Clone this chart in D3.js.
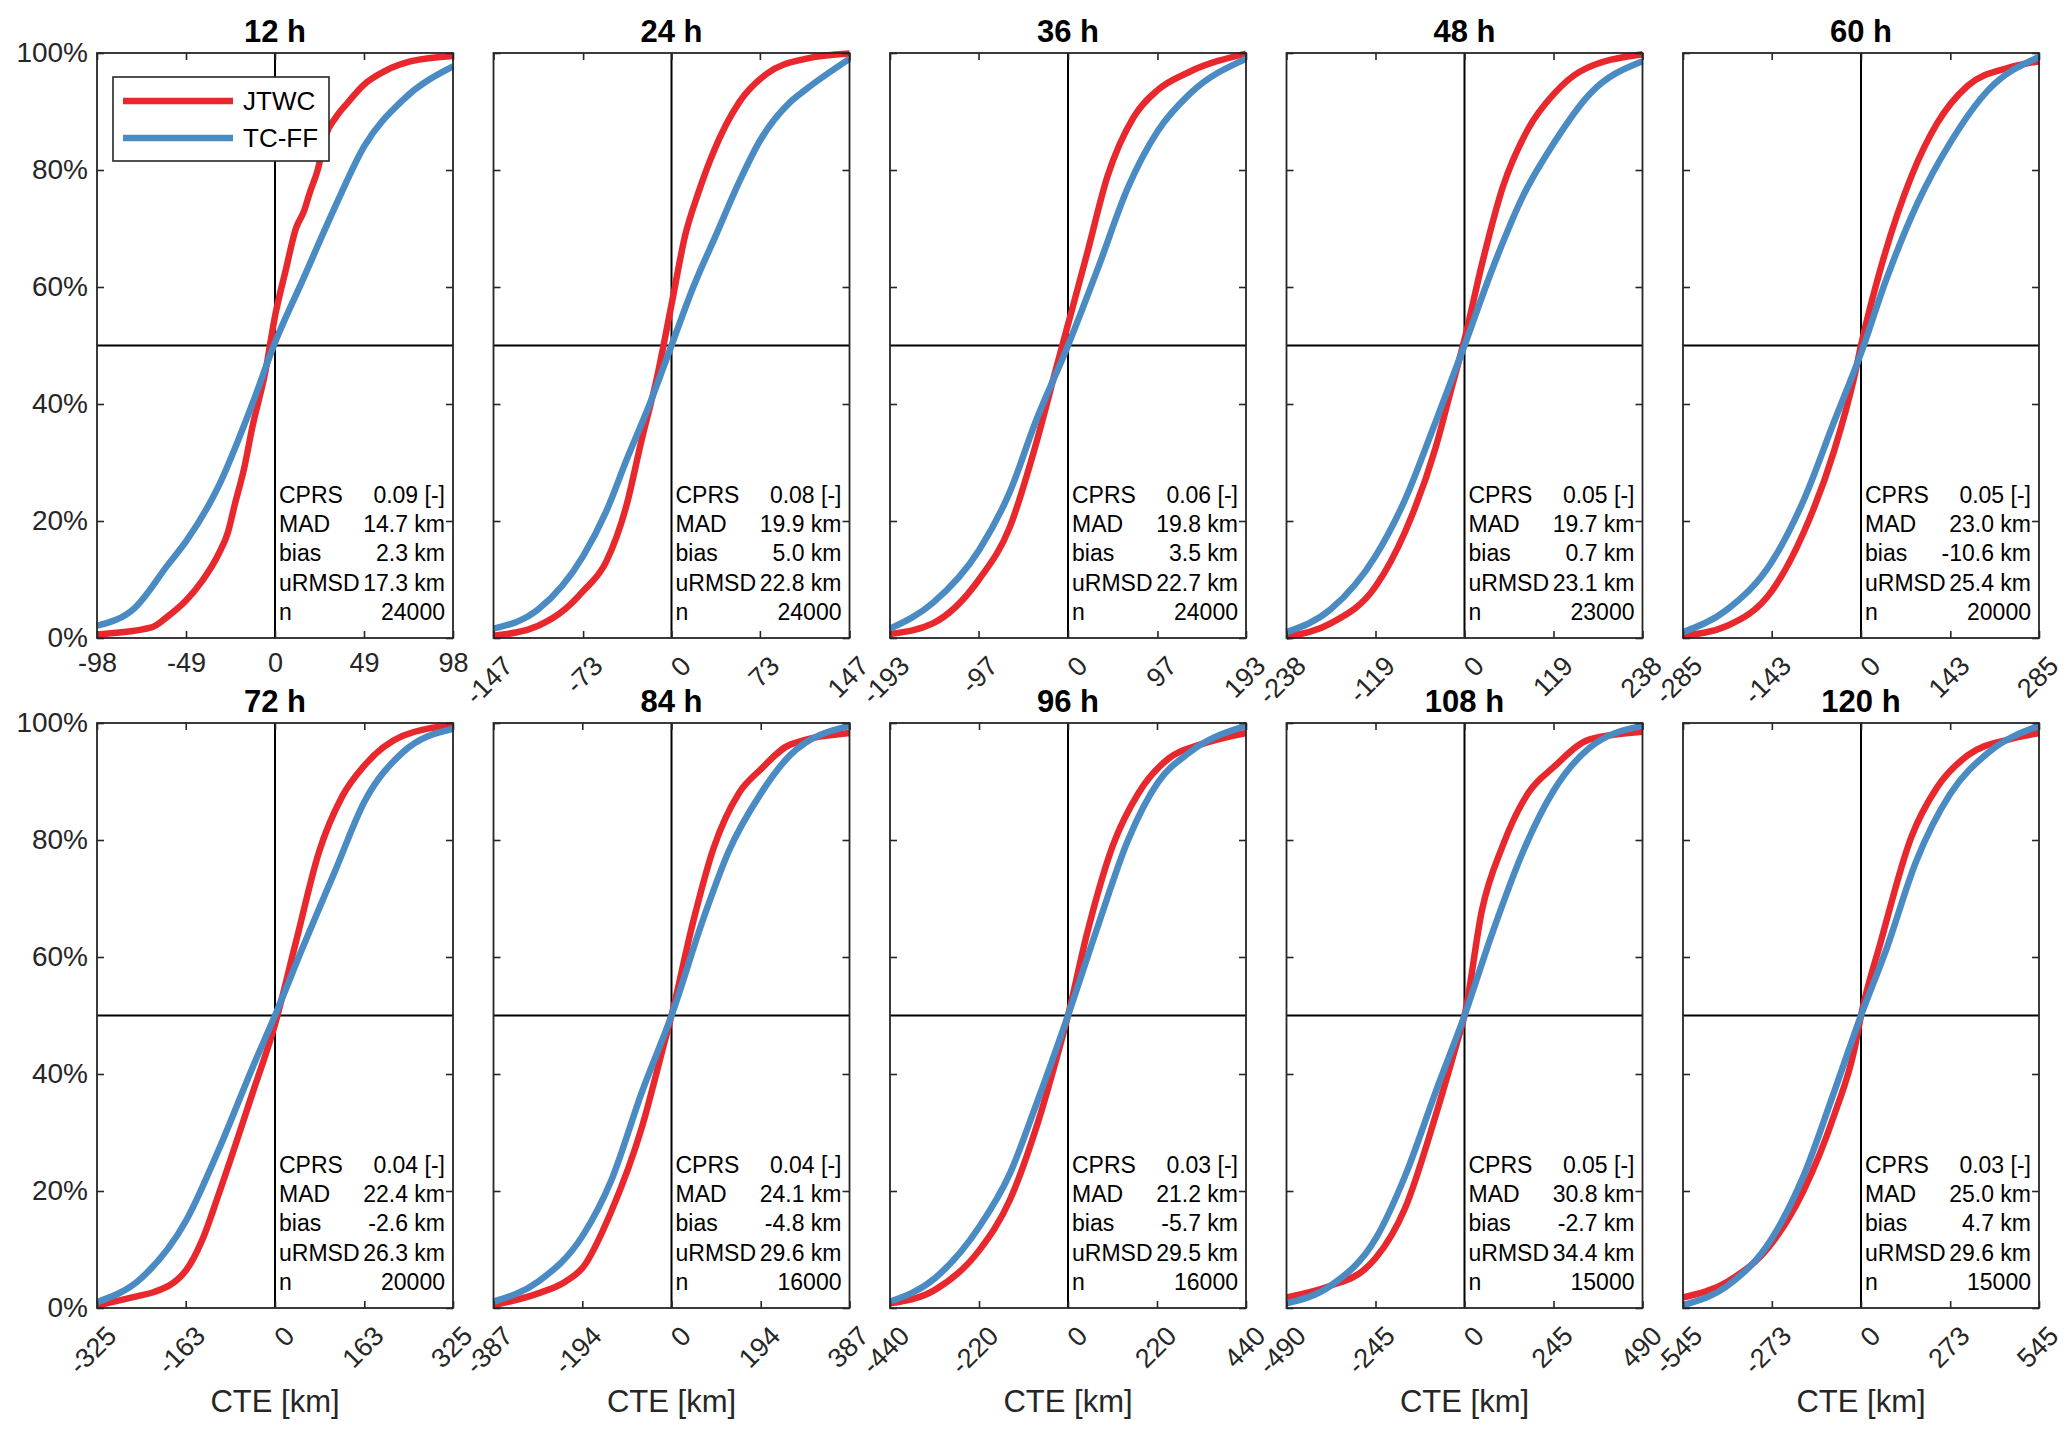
<!DOCTYPE html>
<html>
<head>
<meta charset="utf-8">
<script src="https://cdn.jsdelivr.net/npm/d3@7"></script>
<style>
  body { margin: 0; background: #fff; }
  text { font-family: "Liberation Sans", Arial, sans-serif; }
</style>
</head>
<body>
<div id="chart-area"></div>
<script>
// lead times and symmetric x limits (km) of each panel
const leadTimes = ['12 h', '24 h', '36 h', '48 h', '60 h', '72 h', '84 h', '96 h', '108 h', '120 h']
const xLimits = [98, 147, 193, 238, 285, 325, 387, 440, 490, 545]
const xTicks = [
    [-98, -49, 0, 49, 98], [-147, -73, 0, 73, 147], [-193, -97, 0, 97, 193],
    [-238, -119, 0, 119, 238], [-285, -143, 0, 143, 285], [-325, -163, 0, 163, 325],
    [-387, -194, 0, 194, 387], [-440, -220, 0, 220, 440], [-490, -245, 0, 245, 490],
    [-545, -273, 0, 273, 545]
]
const yTicks = [0, 20, 40, 60, 80, 100]

// scores printed in each panel
const cprs = [0.09, 0.08, 0.06, 0.05, 0.05, 0.04, 0.04, 0.03, 0.05, 0.03]
const mad = [14.7, 19.9, 19.8, 19.7, 23.0, 22.4, 24.1, 21.2, 30.8, 25.0]
const bias = [2.3, 5.0, 3.5, 0.7, -10.6, -2.6, -4.8, -5.7, -2.7, 4.7]
const urmsd = [17.3, 22.8, 22.7, 23.1, 25.4, 26.3, 29.6, 29.5, 34.4, 29.6]
const counts = [24000, 24000, 24000, 23000, 20000, 20000, 16000, 16000, 15000, 15000]

// cumulative distributions: [CTE km, percent]
const jtwcCdf = [
    [[-98, 0.6], [-68, 1.8], [-59, 3.7], [-49, 6.4], [-40, 9.8], [-31, 14.4], [-26, 18], [-22, 23], [-17, 29], [-12.5, 36], [-5, 46], [0, 55], [6, 63], [11.5, 70], [16, 73], [19, 76], [23.5, 80], [28, 86], [33.5, 89], [40, 91.5], [49, 94.6], [61, 97], [75, 98.6], [98, 99.5]],
    [[-147, 0.4], [-110, 2.1], [-88, 4.9], [-73, 8], [-54, 13], [-37, 22.8], [-24.5, 34], [-12, 44.5], [0, 57], [11.5, 69], [22, 76], [34.5, 83], [56, 91.6], [79, 96.5], [110.5, 99], [147, 99.9]],
    [[-193, 0.7], [-146.5, 2.5], [-96.5, 10], [-63, 19], [-35, 33], [-13, 46], [0, 53.6], [20.5, 65.6], [43, 79], [71, 89], [97.5, 93.7], [132, 96.8], [193, 99.9]],
    [[-238, 0.2], [-179, 2.5], [-119, 8.8], [-80, 18], [-38.5, 32.6], [-18, 42.4], [0, 51], [23.5, 64], [51, 77], [85, 87], [119.5, 93], [154, 96.8], [238, 99.8]],
    [[-285, 0.4], [-214, 2.1], [-143, 8], [-92, 18], [-43, 32], [-10, 45], [0, 50], [31, 63], [81, 79], [122, 88], [171, 94.4], [237, 97.5], [285, 98.6]],
    [[-325, 0.4], [-243, 2.2], [-225, 2.6], [-162, 6.5], [-133, 11.6], [-103, 19.4], [-41.5, 36.6], [0, 48.5], [38, 62.5], [80.5, 78], [123, 87.5], [163, 92.7], [233.5, 97.8], [325, 99.6]],
    [[-387, 0.5], [-290, 2.5], [-231, 4.5], [-192, 7], [-131, 16.5], [-64, 31], [-20, 44], [0, 50], [47, 66], [91, 78.5], [146.5, 88], [193, 92], [258, 96.3], [387, 98.3]],
    [[-440, 0.8], [-329, 3.1], [-220, 9.8], [-143.5, 18.5], [-80, 30.5], [-29, 42.5], [0, 50], [47, 64], [110.5, 79], [174, 88], [250, 94], [326.5, 96.3], [440, 98.3]],
    [[-490, 1.8], [-369, 3.8], [-277, 6.5], [-245, 8.5], [-164, 17], [-79, 33], [-22.5, 45], [0, 50], [48, 68], [105, 79], [175, 88], [246, 92.5], [345, 97.2], [490, 98.5]],
    [[-545, 1.8], [-409, 4.5], [-274, 11], [-176.5, 20], [-82, 33], [-19, 44.5], [0, 50], [60, 62.5], [154, 80.5], [233, 89], [327.5, 94.5], [453.5, 97.2], [545, 98.3]]
]
const tcffCdf = [
    [[-98, 2.1], [-77, 5.2], [-59, 12.5], [-49, 16.5], [-31, 26], [-12.5, 40], [0, 50.5], [15, 61], [33.5, 74], [49, 84], [70.5, 92], [98, 97.7]],
    [[-147, 1.6], [-110, 4.9], [-73, 14], [-54, 21.6], [-37, 30.5], [-18, 40], [0, 50], [18, 60], [37, 69], [56, 78], [73, 85], [98, 91.6], [110.5, 93.7], [147, 99]],
    [[-193, 1.6], [-146.5, 6], [-96.5, 15], [-63, 25], [-35, 37], [0, 50], [32, 63], [65, 77], [97.5, 86.7], [132, 93], [193, 99]],
    [[-238, 1], [-179, 4.9], [-119, 14], [-80, 23.5], [-38.5, 37], [0, 50], [37, 63], [78, 75.5], [119.5, 84.6], [167.5, 93], [238, 98.6]],
    [[-285, 1], [-214, 4.9], [-143, 13], [-92, 23.5], [-43, 37], [0, 48.7], [39.5, 61], [89, 74], [142.5, 84.6], [204, 93.7], [285, 99.3]],
    [[-325, 1], [-243, 5.2], [-162, 15], [-103, 27], [-41.5, 41], [0, 50], [50, 61.5], [111, 75], [163, 86.5], [233.5, 95], [325, 99]],
    [[-387, 1.1], [-290, 4.5], [-192, 12.5], [-131, 21.8], [-64, 37], [0, 50], [69, 66.5], [124, 78], [193, 87.8], [258, 94.5], [387, 99.5]],
    [[-440, 1.1], [-329, 5.1], [-220, 13.8], [-143.5, 23], [-80, 34.5], [0, 50], [72.5, 65], [148.5, 80], [222, 89.8], [301, 95], [440, 99.5]],
    [[-490, 0.8], [-369, 3.8], [-245, 11.8], [-164, 22.5], [-79, 37], [0, 50], [76, 64], [161, 78], [246, 88.5], [345, 95.8], [490, 99.5]],
    [[-545, 0.5], [-409, 3.8], [-274, 11.8], [-176.5, 22.5], [-82, 37], [0, 50], [75.5, 61], [170, 76.5], [272.5, 87.8], [391, 95], [545, 99.5]]
]
const seriesNames = ['JTWC', 'TC-FF']
const seriesColors = ['#e8282d', '#4a8bc4']

const width = 2067
const height = 1437
const panelW = 356
const panelH = 585
const colStep = 396.5
const rowTops = [53, 723]
const firstLeft = 97

const svg = d3.select('#chart-area').append('svg')
    .attr('width', width)
    .attr('height', height)
    .style('display', 'block')

const yScale = d3.scaleLinear().domain([0, 100]).range([panelH, 0])

leadTimes.forEach((lead, i) => {
    const col = i % 5
    const row = Math.floor(i / 5)
    const L = xLimits[i]
    const g = svg.append('g')
        .attr('transform', `translate(${firstLeft + col * colStep}, ${rowTops[row]})`)

    const xScale = d3.scaleLinear().domain([-L, L]).range([0, panelW])

    const line = d3.line()
        .x(d => xScale(d[0]))
        .y(d => yScale(d[1]))
        .curve(d3.curveMonotoneX)

    // crosshair at 0 km and 50 %
    g.append('line')
        .attr('x1', xScale(0)).attr('x2', xScale(0))
        .attr('y1', 0).attr('y2', panelH)
        .attr('stroke', '#000').attr('stroke-width', 2)
    g.append('line')
        .attr('x1', 0).attr('x2', panelW)
        .attr('y1', yScale(50)).attr('y2', yScale(50))
        .attr('stroke', '#000').attr('stroke-width', 2)

    // stats text
    const labels = ['CPRS', 'MAD', 'bias', 'uRMSD', 'n']
    const values = [
        `${cprs[i].toFixed(2)} [-]`,
        `${mad[i].toFixed(1)} km`,
        `${bias[i].toFixed(1)} km`,
        `${urmsd[i].toFixed(1)} km`,
        `${counts[i]}`
    ]
    labels.forEach((lab, k) => {
        const ty = panelH - 143 + k * 29.2
        g.append('text')
            .attr('x', xScale(0) + 4).attr('y', ty).attr('dy', '0.35em')
            .attr('font-size', '23px').attr('fill', '#000')
            .text(lab)
        g.append('text')
            .attr('x', panelW - 8).attr('y', ty).attr('dy', '0.35em')
            .attr('font-size', '23px').attr('fill', '#000')
            .attr('text-anchor', 'end')
            .text(values[k])
    })

    // the two CDF curves
    const curves = [jtwcCdf[i], tcffCdf[i]]
    curves.forEach((c, s) => {
        g.append('path')
            .datum(c)
            .attr('d', line)
            .attr('fill', 'none')
            .attr('stroke', seriesColors[s])
            .attr('stroke-width', 6.5)
            .attr('stroke-linejoin', 'round')
    })

    // axes with inward ticks
    const xAxisCall = d3.axisBottom(xScale)
        .tickValues(xTicks[i])
        .tickSizeInner(-7).tickSizeOuter(0)
        .tickPadding(15)
        .tickFormat(d => d)
    const xAx = g.append('g')
        .attr('class', 'x axis')
        .attr('transform', `translate(0, ${panelH})`)
        .call(xAxisCall)
    xAx.selectAll('text')
        .attr('font-size', '27px')
        .attr('fill', '#262626')
        .style('font-family', '"Liberation Sans", Arial, sans-serif')
    if (i > 0) {
        xAx.selectAll('text')
            .attr('y', 0).attr('x', 0).attr('dy', '0.35em')
            .attr('text-anchor', 'end')
            .attr('transform', 'translate(14, 23) rotate(-45)')
    }

    g.append('g')
        .attr('class', 'x axis top')
        .call(d3.axisTop(xScale).tickValues(xTicks[i]).tickSizeInner(-7).tickSizeOuter(0).tickFormat(''))

    const yAxisCall = d3.axisLeft(yScale)
        .tickValues(yTicks)
        .tickSizeInner(-7).tickSizeOuter(0)
        .tickPadding(9)
        .tickFormat(col === 0 ? (d => `${d}%`) : '')
    const yAx = g.append('g').attr('class', 'y axis').call(yAxisCall)
    yAx.selectAll('text')
        .attr('font-size', '28px')
        .attr('fill', '#262626')
        .style('font-family', '"Liberation Sans", Arial, sans-serif')

    g.append('g')
        .attr('class', 'y axis right')
        .attr('transform', `translate(${panelW}, 0)`)
        .call(d3.axisRight(yScale).tickValues(yTicks).tickSizeInner(-7).tickSizeOuter(0).tickFormat(''))

    g.selectAll('.axis path.domain').remove()
    g.selectAll('.axis line').attr('stroke', '#262626').attr('stroke-width', 1.6)

    // box
    g.append('rect')
        .attr('x', 0).attr('y', 0)
        .attr('width', panelW).attr('height', panelH)
        .attr('fill', 'none')
        .attr('stroke', '#262626')
        .attr('stroke-width', 1.8)

    // title
    g.append('text')
        .attr('x', panelW / 2).attr('y', -11)
        .attr('text-anchor', 'middle')
        .attr('font-size', '31px').attr('font-weight', 'bold')
        .attr('fill', '#000')
        .text(lead)

    if (row === 1) {
        g.append('text')
            .attr('class', 'x axis-label')
            .attr('x', panelW / 2).attr('y', 1412 - rowTops[1])
            .attr('text-anchor', 'middle')
            .attr('font-size', '31px')
            .attr('fill', '#262626')
            .text('CTE [km]')
    }

    // legend in the first panel
    if (i === 0) {
        const lg = g.append('g').attr('transform', 'translate(16, 24)')
        lg.append('rect')
            .attr('width', 216).attr('height', 84)
            .attr('fill', '#fff').attr('stroke', '#262626').attr('stroke-width', 1.6)
        seriesNames.forEach((name, s) => {
            const ly = 24 + s * 37
            lg.append('line')
                .attr('x1', 10).attr('x2', 120)
                .attr('y1', ly).attr('y2', ly)
                .attr('stroke', seriesColors[s]).attr('stroke-width', 6.5)
            lg.append('text')
                .attr('x', 130).attr('y', ly).attr('dy', '0.35em')
                .attr('font-size', '26px').attr('fill', '#000')
                .text(name)
        })
    }
})
</script>
</body>
</html>
